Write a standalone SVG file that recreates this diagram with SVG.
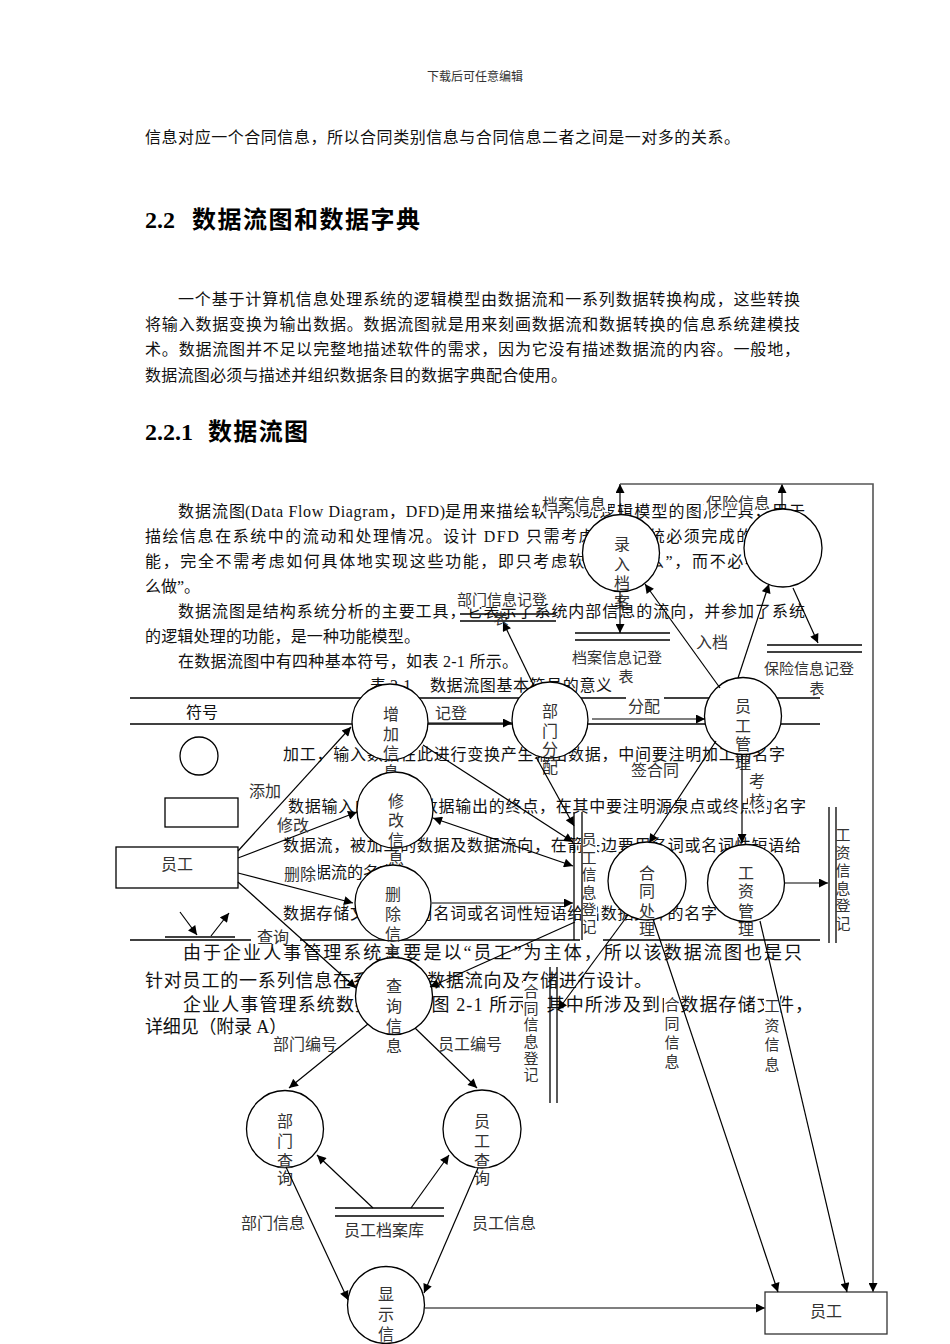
<svg xmlns="http://www.w3.org/2000/svg" width="950" height="1344" viewBox="0 0 950 1344">
<defs>
<style>
.doc{font-family:"Liberation Serif","Noto Sans CJK SC",serif;font-size:16px;fill:#111;dominant-baseline:central}
.d18{font-size:18px}
.hd{font-family:"Liberation Serif","Noto Sans CJK SC",serif;font-size:24px;font-weight:bold;fill:#000;dominant-baseline:central}
.hdr{font-family:"Noto Sans CJK SC",sans-serif;font-size:12px;fill:#333;dominant-baseline:central;text-anchor:middle}
.lbl{font-family:"Noto Sans CJK SC","Liberation Sans",sans-serif;font-size:16px;fill:#333;dominant-baseline:central;text-anchor:middle}
.sm{font-size:15px}
.node circle,.node rect,.sym{fill:#fff;stroke:#000;stroke-width:1.3}
.tl{stroke:#000;stroke-width:1.5;fill:none}
.st{stroke:#000;stroke-width:1.3;fill:none}
.e{stroke:#000;stroke-width:1.2;fill:none;marker-end:url(#ah)}
.g{stroke:#555;stroke-width:1.6}
.bg{fill:#fff}
</style>
<marker id="ah" viewBox="0 0 10 10" refX="10" refY="5" markerWidth="11" markerHeight="9" markerUnits="userSpaceOnUse" orient="auto-start-reverse"><path d="M0,0 L10,5 L0,10 z" fill="#000"/></marker>
</defs>
<rect width="950" height="1344" fill="#fff"/>

<g id="document">
<text class="hdr" x="475" y="75">下载后可任意编辑</text>
<text class="doc" x="145" y="137" textLength="595">信息对应一个合同信息，所以合同类别信息与合同信息二者之间是一对多的关系。</text>
<text class="hd" x="145" y="220">2.2</text>
<text class="hd" x="192" y="220" textLength="228">数据流图和数据字典</text>
<text class="doc" x="178" y="299" textLength="622">一个基于计算机信息处理系统的逻辑模型由数据流和一系列数据转换构成，这些转换</text>
<text class="doc" x="145" y="324" textLength="655">将输入数据变换为输出数据。数据流图就是用来刻画数据流和数据转换的信息系统建模技</text>
<text class="doc" x="145" y="349" textLength="655">术。数据流图并不足以完整地描述软件的需求，因为它没有描述数据流的内容。一般地，</text>
<text class="doc" x="145" y="375" textLength="422">数据流图必须与描述并组织数据条目的数据字典配合使用。</text>
<text class="hd" x="145" y="432">2.2.1</text>
<text class="hd" x="208" y="432" textLength="100">数据流图</text>
<text class="doc" x="178" y="511" textLength="67">数据流图</text>
<text class="doc" x="245" y="511" textLength="200">(Data Flow Diagram，DFD)</text>
<text class="doc" x="445" y="511" textLength="360">是用来描绘软件系统逻辑模型的图形工具，用于</text>
<text class="doc" x="145" y="536" textLength="660">描绘信息在系统中的流动和处理情况。设计 DFD 只需考虑软件系统必须完成的基本功</text>
<text class="doc" x="145" y="561" textLength="660">能，完全不需考虑如何具体地实现这些功能，即只考虑软件“做什么”，而不必考虑“怎</text>
<text class="doc" x="145" y="586">么做”。</text>
<text class="doc" x="178" y="611" textLength="627">数据流图是结构系统分析的主要工具，它表示了系统内部信息的流向，并参加了系统</text>
<text class="doc" x="145" y="636" textLength="275">的逻辑处理的功能，是一种功能模型。</text>
<text class="doc" x="178" y="661" textLength="340">在数据流图中有四种基本符号，如表 2-1 所示。</text>
<text class="doc" x="370" y="685">表 2-1</text>
<text class="doc" x="430" y="685" textLength="182">数据流图基本符号的意义</text>
<text class="doc" x="186" y="712">符号</text>
<text class="doc" x="283" y="754" textLength="502">加工，输入数据在此进行变换产生输出数据，中间要注明加工的名字</text>
<text class="doc" x="288" y="806" textLength="518">数据输入的源点或数据输出的终点，在其中要注明源泉点或终点的名字</text>
<text class="doc" x="283" y="845" textLength="518">数据流，被加工的数据及数据流向，在箭头边要用名词或名词性短语给</text>
<text class="doc" x="283" y="872">出数据流的名字</text>
<text class="doc" x="283" y="913" textLength="434">数据存储文件，要用名词或名词性短语给出数据文件的名字</text>
<text class="doc d18" x="183" y="953" textLength="619">由于企业人事管理系统主要是以“员工”为主体，所以该数据流图也是只</text>
<text class="doc d18" x="145" y="981" textLength="507">针对员工的一系列信息在系统中的数据流向及存储进行设计。</text>
<text class="doc d18" x="183" y="1005" textLength="630">企业人事管理系统数据流图如图 2-1 所示，其中所涉及到的数据存储文件，</text>
<text class="doc d18" x="145" y="1027" textLength="142">详细见（附录 A）</text>
</g>

<g id="table">
<line class="tl" x1="130" y1="698" x2="820" y2="698"/>
<line class="tl" x1="130" y1="724" x2="820" y2="724"/>
<line class="tl" x1="130" y1="940" x2="580" y2="940"/>
<line class="tl" x1="603" y1="940" x2="820" y2="940"/>
<circle class="sym" cx="199" cy="756" r="19"/>
<rect class="sym" x="165" y="798" width="73" height="29"/>
<line class="e" x1="180" y1="912" x2="197" y2="935"/>
<line class="e" x1="211" y1="936" x2="229" y2="913"/>
<line class="st" x1="165" y1="937" x2="235" y2="937"/>
</g>

<g id="label-backgrounds">
<rect class="bg" x="540" y="494" width="68" height="18"/>
<rect class="bg" x="704" y="493" width="68" height="18"/>
<rect class="bg" x="459" y="590" width="86" height="17"/>
<rect class="bg" x="626" y="695" width="38" height="20"/>
<rect class="bg" x="748" y="770" width="19" height="40"/>
<rect class="bg" x="276" y="816" width="35" height="17"/>
<rect class="bg" x="283" y="864" width="35" height="18"/>
<rect class="bg" x="251" y="926" width="49" height="18"/>
<rect class="bg" x="581" y="829" width="16" height="105"/>
<rect class="bg" x="523" y="981" width="16" height="101"/>
<rect class="bg" x="664" y="993" width="16" height="78"/>
<rect class="bg" x="764" y="994" width="16" height="78"/>
<rect class="bg" x="270" y="1034" width="68" height="18"/>
</g>

<g id="stores">
<g id="s-bumen"><line class="st" x1="460" y1="614" x2="556" y2="614"/><line class="st" x1="460" y1="621" x2="556" y2="621"/></g>
<g id="s-dangan"><line class="st" x1="575" y1="633" x2="670" y2="633"/><line class="st" x1="575" y1="640" x2="670" y2="640"/></g>
<g id="s-baoxian"><line class="st" x1="767" y1="645" x2="862" y2="645"/><line class="st" x1="767" y1="652" x2="862" y2="652"/></g>
<g id="s-yuangong"><line class="st" x1="574" y1="812" x2="574" y2="940"/><line class="st" x1="582" y1="812" x2="582" y2="940"/></g>
<g id="s-hetong"><line class="st" x1="550" y1="967" x2="550" y2="1103"/><line class="st" x1="557" y1="967" x2="557" y2="1103"/></g>
<g id="s-gongzi"><line class="st" x1="829" y1="807" x2="829" y2="943"/><line class="st" x1="836" y1="807" x2="836" y2="943"/></g>
<g id="s-dangan-ku"><line class="st" x1="335" y1="1208" x2="444" y2="1208"/><line class="st" x1="335" y1="1216" x2="444" y2="1216"/></g>
</g>

<g id="nodes">
<g id="n-luru" class="node"><circle cx="621" cy="553" r="38.5"/><text class="lbl"><tspan x="622" y="543">录</tspan><tspan x="622" y="563">入</tspan><tspan x="622" y="582">档</tspan><tspan x="622" y="601">案</tspan></text></g>
<g id="n-baoxian" class="node"><circle cx="783" cy="548" r="39"/></g>
<g id="n-bumenfenpei" class="node"><circle cx="550" cy="720" r="38"/><text class="lbl"><tspan x="550" y="710">部</tspan><tspan x="550" y="730">门</tspan><tspan x="550" y="748">分</tspan><tspan x="550" y="766">配</tspan></text></g>
<g id="n-yuangongguanli" class="node"><circle cx="743" cy="716" r="38.5"/><text class="lbl"><tspan x="743" y="705">员</tspan><tspan x="743" y="725">工</tspan><tspan x="743" y="743">管</tspan><tspan x="743" y="762">理</tspan></text></g>
<g id="n-hetong" class="node"><circle cx="647" cy="881" r="39"/><text class="lbl"><tspan x="647" y="872">合</tspan><tspan x="647" y="890">同</tspan><tspan x="647" y="910">处</tspan><tspan x="647" y="928">理</tspan></text></g>
<g id="n-gongzi" class="node"><circle cx="746" cy="883" r="38.5"/><text class="lbl"><tspan x="746" y="872">工</tspan><tspan x="746" y="890">资</tspan><tspan x="746" y="910">管</tspan><tspan x="746" y="928">理</tspan></text></g>
<g id="n-zengjia" class="node"><circle cx="390" cy="722" r="38"/><text class="lbl"><tspan x="391" y="713">增</tspan><tspan x="391" y="733">加</tspan><tspan x="391" y="752">信</tspan><tspan x="391" y="771">息</tspan></text></g>
<g id="n-xiugai" class="node"><circle cx="395" cy="810" r="38"/><text class="lbl"><tspan x="396" y="800">修</tspan><tspan x="396" y="819">改</tspan><tspan x="396" y="839">信</tspan><tspan x="396" y="858">息</tspan></text></g>
<g id="n-shanchu" class="node"><circle cx="393" cy="903" r="38"/><text class="lbl"><tspan x="393" y="893">删</tspan><tspan x="393" y="913">除</tspan><tspan x="393" y="933">信</tspan><tspan x="393" y="952">息</tspan></text></g>
<g id="n-chaxun" class="node"><circle cx="394" cy="996" r="38.5"/><text class="lbl"><tspan x="394" y="985">查</tspan><tspan x="394" y="1005">询</tspan><tspan x="394" y="1025">信</tspan><tspan x="394" y="1045">息</tspan></text></g>
<g id="n-bumenchaxun" class="node"><circle cx="285" cy="1129" r="38.5"/><text class="lbl"><tspan x="285" y="1120">部</tspan><tspan x="285" y="1140">门</tspan><tspan x="285" y="1160">查</tspan><tspan x="285" y="1177">询</tspan></text></g>
<g id="n-yuangongchaxun" class="node"><circle cx="482" cy="1129" r="39"/><text class="lbl"><tspan x="482" y="1120">员</tspan><tspan x="482" y="1140">工</tspan><tspan x="482" y="1160">查</tspan><tspan x="482" y="1177">询</tspan></text></g>
<g id="n-xianshi" class="node"><circle cx="386" cy="1305" r="38.5"/><text class="lbl"><tspan x="386" y="1293">显</tspan><tspan x="386" y="1313">示</tspan><tspan x="386" y="1333">信</tspan></text></g>
<g id="n-yuangong-src" class="node"><rect x="116" y="847" width="122" height="41"/><text class="lbl" x="177" y="863">员工</text></g>
<g id="n-yuangong-dst" class="node"><rect x="765" y="1292" width="122" height="42" style="stroke:#333"/><text class="lbl" x="826" y="1310">员工</text></g>
</g>

<g id="connectors">
<line class="e" x1="238" y1="851" x2="351" y2="727"/>
<line class="e" x1="238" y1="858" x2="357" y2="812"/>
<line class="e" x1="238" y1="873" x2="353" y2="903"/>
<line class="e" x1="238" y1="882" x2="356" y2="988"/>
<line class="e" x1="428" y1="723" x2="512" y2="723"/>
<line class="e" x1="423" y1="745" x2="573" y2="842"/>
<line class="e" x1="433" y1="818" x2="573" y2="866" style="marker-start:url(#ah)"/>
<line class="e" x1="432" y1="903" x2="573" y2="903"/>
<line class="e" x1="575" y1="922" x2="430" y2="987"/>
<line class="e" x1="534" y1="686" x2="503" y2="622"/>
<line class="e" x1="536" y1="757" x2="574" y2="826"/>
<line class="e" x1="592" y1="719" x2="705" y2="719"/>
<line class="e" x1="720" y1="688" x2="645" y2="584"/>
<line class="e" x1="738" y1="678" x2="769" y2="584"/>
<line class="e" x1="620" y1="592" x2="620" y2="633"/>
<line class="e" x1="793" y1="588" x2="818" y2="643"/>
<line class="e" x1="716" y1="741" x2="649" y2="843"/>
<line class="e" x1="742" y1="755" x2="742" y2="843"/>
<line class="e" x1="785" y1="883" x2="828" y2="883"/>
<line class="e" x1="628" y1="915" x2="558" y2="1010"/>
<line class="e" x1="653" y1="919" x2="778" y2="1292"/>
<line class="e" x1="760" y1="921" x2="847" y2="1292"/>
<line class="e" x1="620" y1="515" x2="620" y2="484"/>
<line class="e" x1="782" y1="509" x2="782" y2="484"/>
<path class="e g" d="M620,484 L873,484 L873,1292"/>
<line class="e g" x1="425" y1="1308" x2="765" y2="1308"/>
<line class="e" x1="368" y1="1024" x2="289" y2="1088"/>
<line class="e" x1="415" y1="1028" x2="477" y2="1088"/>
<line class="e" x1="373" y1="1208" x2="317" y2="1155"/>
<line class="e" x1="411" y1="1208" x2="449" y2="1155"/>
<line class="e" x1="286" y1="1167" x2="348" y2="1300"/>
<line class="e" x1="478" y1="1168" x2="424" y2="1293"/>
</g>

<g id="labels">
<text class="lbl" x="574" y="503">档案信息</text>
<text class="lbl" x="738" y="502">保险信息</text>
<text class="lbl sm" x="502" y="598">部门信息记登</text>
<text class="lbl sm" x="501" y="617">表</text>
<text class="lbl sm" x="617" y="656">档案信息记登</text>
<text class="lbl sm" x="626" y="675">表</text>
<text class="lbl sm" x="809" y="667">保险信息记登</text>
<text class="lbl sm" x="817" y="687">表</text>
<text class="lbl" x="712" y="641">入档</text>
<text class="lbl" x="451" y="712">记登</text>
<text class="lbl" x="644" y="705">分配</text>
<text class="lbl" x="655" y="769">签合同</text>
<text class="lbl"><tspan x="757" y="780">考</tspan><tspan x="757" y="800">核</tspan></text>
<text class="lbl" x="265" y="790">添加</text>
<text class="lbl" x="293" y="824">修改</text>
<text class="lbl" x="300" y="873">删除</text>
<text class="lbl" x="273" y="936">查询</text>
<text class="lbl sm"><tspan x="589" y="838">员</tspan><tspan x="589" y="856">工</tspan><tspan x="589" y="873">信</tspan><tspan x="589" y="891">息</tspan><tspan x="589" y="908">登</tspan><tspan x="589" y="925">记</tspan></text>
<text class="lbl sm"><tspan x="531" y="990">合</tspan><tspan x="531" y="1007">同</tspan><tspan x="531" y="1023">信</tspan><tspan x="531" y="1040">息</tspan><tspan x="531" y="1057">登</tspan><tspan x="531" y="1073">记</tspan></text>
<text class="lbl sm"><tspan x="843" y="833">工</tspan><tspan x="843" y="851">资</tspan><tspan x="843" y="869">信</tspan><tspan x="843" y="887">息</tspan><tspan x="843" y="904">登</tspan><tspan x="843" y="922">记</tspan></text>
<text class="lbl sm"><tspan x="672" y="1003">合</tspan><tspan x="672" y="1022">同</tspan><tspan x="672" y="1041">信</tspan><tspan x="672" y="1060">息</tspan></text>
<text class="lbl sm"><tspan x="772" y="1004">工</tspan><tspan x="772" y="1024">资</tspan><tspan x="772" y="1043">信</tspan><tspan x="772" y="1063">息</tspan></text>
<text class="lbl" x="305" y="1043">部门编号</text>
<text class="lbl" x="470" y="1043">员工编号</text>
<text class="lbl" x="384" y="1229">员工档案库</text>
<text class="lbl" x="273" y="1222">部门信息</text>
<text class="lbl" x="504" y="1222">员工信息</text>
</g>
</svg>
